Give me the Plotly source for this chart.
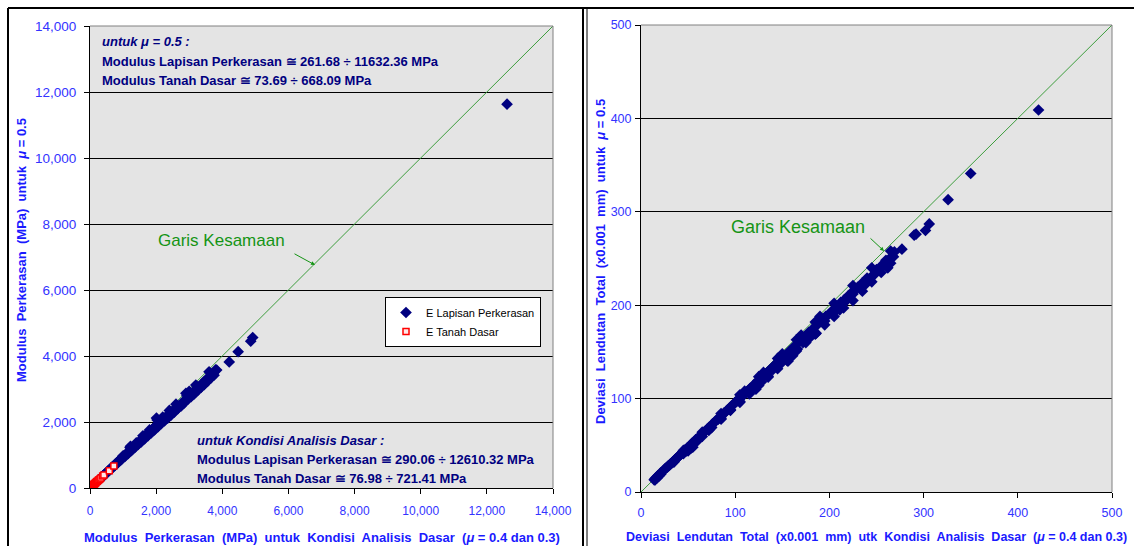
import plotly.graph_objects as go

# ---------------- data: left chart (Modulus) ----------------
lap_x = [290, 310, 335, 360, 385, 410, 440, 465, 490, 500, 520, 545, 575, 600, 630, 660, 690, 700, 720, 750,
         780, 815, 850, 880, 900, 910, 945, 980, 1000, 1010, 1045, 1080, 1100, 1115, 1150, 1185, 1210, 1225,
         1240, 1270, 1300, 1300, 1335, 1370, 1400, 1400, 1440, 1475, 1500, 1510, 1545, 1580, 1620, 1655,
         1690, 1700, 1730, 1765, 1800, 1800, 1840, 1875, 1900, 1910, 1950, 1985, 2010, 2030, 2060, 2100,
         2100, 2140, 2180, 2200, 2220, 2260, 2300, 2300, 2345, 2390, 2430, 2470, 2500, 2510, 2550, 2600,
         2600, 2650, 2700, 2700, 2750, 2800, 2860, 2900, 2900, 2930, 2990, 3000, 3050, 3100, 3110, 3170,
         3230, 3290, 3300, 3350, 3400, 3450, 3500, 3500, 3560, 3620, 3680, 3700, 3740, 3800, 3830, 4210,
         4480, 4860, 4920, 12610.32,
         350, 450, 550, 650, 750, 850, 950, 1050, 1150, 1250, 1350, 1450, 1550, 1650, 1750, 1850, 1950,
         2050, 2150, 2250, 2350, 2450, 2550, 2650, 2750, 2850, 2950, 3050, 3150, 3250, 3350, 3450, 3550,
         3650, 3750, 1600, 2400, 3200, 3600]
lap_y = [262, 290, 318, 330, 362, 385, 415, 432, 462, 455, 488, 515, 540, 560, 598, 622, 650, 640, 672, 712,
         738, 770, 798, 835, 830, 860, 890, 925, 975, 950, 985, 1015, 1010, 1050, 1080, 1120, 1230, 1265,
         1180, 1200, 1225, 1190, 1262, 1290, 1318, 1370, 1355, 1385, 1380, 1420, 1455, 1490, 1525, 1560,
         1590, 1560, 1630, 1660, 1695, 1760, 1735, 1765, 1750, 1800, 1840, 1870, 2120, 2060, 1945, 1985,
         1940, 2010, 2050, 2150, 2085, 2120, 2150, 2110, 2190, 2225, 2265, 2295, 2300, 2335, 2370, 2410,
         2540, 2450, 2495, 2470, 2540, 2590, 2650, 2870, 2660, 2800, 2780, 2930, 2830, 2850, 2900, 2955,
         3010, 3060, 3020, 3110, 3170, 3220, 3270, 3210, 3320, 3380, 3440, 3390, 3500, 3580, 3575, 3820,
         4130, 4450, 4560, 11632.36,
         310, 400, 495, 585, 680, 770, 860, 950, 1040, 1130, 1220, 1310, 1400, 1490, 1580, 1670, 1760,
         1850, 1950, 2030, 2120, 2210, 2300, 2400, 2480, 2580, 2680, 2760, 2850, 2950, 3040, 3130, 3230,
         3330, 3420, 1580, 2350, 3120, 3520]

tan_x = [76.98, 90, 105, 120, 135, 150, 165, 180, 200, 220, 245, 270, 300, 330, 383, 420, 584, 721.41]
tan_y = [73.69, 84, 98, 110, 124, 140, 152, 165, 186, 205, 226, 250, 276, 305, 364, 392, 525, 668.09]

# ---------------- data: right chart (Deviasi Lendutan) ----------------
dev_x = [14, 15, 15, 16, 17, 17, 18, 19, 19, 20, 21, 21, 22,
         27, 28, 29, 30, 31, 32, 33, 34, 35, 36, 37, 38, 39, 40, 41, 42, 43, 44, 45, 46, 47, 48, 49, 50,
         50, 53, 55, 52, 54, 56, 58, 60, 60, 62, 64, 66, 68, 70, 72, 72, 74, 76, 78, 80, 82, 84, 85, 86,
         88, 90, 92, 94, 95, 96, 98, 100, 102, 104, 105, 106, 108, 110, 110, 112, 114, 115, 116, 118, 120,
         122, 122, 124, 126, 128, 128, 130, 130, 133, 135, 136, 139, 140, 142, 145, 148, 148, 150, 151, 154,
         156, 157, 160, 161, 163, 166, 166, 169, 170, 172, 172, 175, 178, 180, 181, 184, 186, 187, 190, 190,
         193, 195, 196, 199, 202, 204, 205, 208, 211, 212, 216, 218, 220, 225, 225, 230, 233, 235, 238, 240,
         246, 247, 250, 253, 255, 260, 262, 265, 268, 269, 277, 290, 292, 302, 306, 326, 350, 422,
         35, 45, 55, 65, 75, 85, 95, 105, 115, 125, 135, 145, 155, 165, 175, 185, 195, 205, 215, 225, 235,
         245, 255, 265, 25, 45, 65, 85, 105, 125, 145, 165, 185, 205, 225, 245, 265]
dev_y = [13, 14.5, 13, 15, 16, 15, 17.5, 18, 17, 19, 20.5, 19, 21,
         26, 26.5, 28, 28.5, 30, 30.5, 31.5, 32.5, 33, 34.5, 35.5, 36, 37.5, 38, 39.5, 40, 41, 42.5, 43, 44.5, 45, 44, 47, 47.5,
         44, 47, 48, 50, 52, 53.5, 56, 57, 55, 59.5, 61, 63.5, 65, 67, 69, 66, 70.5, 73, 74.5, 77, 78, 80.5, 79, 82,
         84.5, 86, 88, 90, 88, 92, 93.5, 96, 97.5, 100, 97, 101, 103.5, 105, 108, 107, 109, 106, 111, 112.5, 115,
         116, 110, 119, 120, 123, 118, 124, 128, 127, 124, 130, 133, 131, 136, 139, 141, 137, 148, 145, 147,
         140, 150, 153, 146, 156, 159, 153, 162, 168, 165, 160, 167, 171, 166, 173, 176, 170, 179, 182, 188,
         185, 183, 188, 190, 193, 191, 196, 199, 195, 203, 206, 205, 210, 215, 212, 219, 218, 224, 222, 229,
         232, 232, 238, 238, 242, 248, 240, 251, 252, 257, 260, 275, 276, 280, 287, 313, 341, 409,
         32, 41, 50.5, 59.5, 69, 78, 87.5, 96, 105, 114, 123, 132, 141, 151, 160, 169, 179, 188, 197, 205, 215,
         225, 235, 245, 24.5, 44.5, 64, 84, 104, 123.5, 143, 163, 182, 202, 221, 240, 258]

x_ticks_left = [0, 2000, 4000, 6000, 8000, 10000, 12000, 14000]
x_ticks_right = [0, 100, 200, 300, 400, 500]
line_left = [0, 14000]
line_right = [0, 500]

W, H = 1134, 546
def px(x): return x / W
def py(y): return 1 - y / H

NAVY = "#000080"
TICK = "#3333FF"
TITLE = "#1a1aff"
GREEN_LINE = "#3d9d3d"
GREEN_TXT = "#159415"
FONT = "Liberation Sans, Arial, sans-serif"

fig = go.Figure()

fig.add_trace(go.Scatter(x=line_left, y=line_left, mode="lines", line=dict(color=GREEN_LINE, width=1),
                         showlegend=False, hoverinfo="skip", xaxis="x", yaxis="y"))
fig.add_trace(go.Scatter(x=lap_x, y=lap_y, mode="markers", name="E Lapisan Perkerasan",
                         marker=dict(symbol="diamond", size=9, color="#000080", line=dict(width=0)),
                         xaxis="x", yaxis="y"))
fig.add_trace(go.Scatter(x=tan_x, y=tan_y, mode="markers", name="E Tanah Dasar",
                         marker=dict(symbol="square", size=6, color="#ffe8e8", line=dict(width=1.5, color="#ff0000")),
                         xaxis="x", yaxis="y"))
fig.add_trace(go.Scatter(x=line_right, y=line_right, mode="lines", line=dict(color=GREEN_LINE, width=1),
                         showlegend=False, hoverinfo="skip", xaxis="x2", yaxis="y2"))
fig.add_trace(go.Scatter(x=dev_x, y=dev_y, mode="markers", showlegend=False,
                         marker=dict(symbol="diamond", size=9, color="#000080", line=dict(width=0)),
                         xaxis="x2", yaxis="y2"))

def ax(size, standoff):
    return dict(showline=True, linecolor="black", linewidth=1, ticks="outside", ticklen=5,
                tickcolor="black", tickfont=dict(family=FONT, size=size, color=TICK), zeroline=False,
                ticklabelstandoff=standoff)

fig.update_layout(
    autosize=True, margin=dict(l=0, r=0, t=0, b=0, autoexpand=False),
    paper_bgcolor="white", plot_bgcolor="#e4e4e4",
    font=dict(family=FONT),
    xaxis=dict(domain=[px(90), px(553)], range=[0, 14000], tickvals=x_ticks_left, tickformat=",d",
               showgrid=False, anchor="y", **ax(12, 7)),
    yaxis=dict(domain=[py(488), py(26)], range=[0, 14000], tickvals=x_ticks_left, tickformat=",d",
               showgrid=True, gridcolor="black", gridwidth=1, anchor="x", **ax(13.5, 5)),
    xaxis2=dict(domain=[px(641), px(1112)], range=[0, 500], tickvals=x_ticks_right,
                showgrid=False, anchor="y2", **ax(12.5, 4)),
    yaxis2=dict(domain=[py(492), py(25)], range=[0, 500], tickvals=x_ticks_right,
                showgrid=True, gridcolor="black", gridwidth=1, anchor="x2", **ax(12.5, 1)),
    legend=dict(x=px(385), y=py(297), xanchor="left", yanchor="top", bgcolor="white",
                bordercolor="black", borderwidth=1, font=dict(family=FONT, size=11, color="black"),
                tracegroupgap=2),
    showlegend=True,
)

shapes = []
for xr_, yr_ in (("x", "y"), ("x2", "y2")):
    shapes.append(dict(type="line", xref=f"{xr_} domain", yref=f"{yr_} domain", x0=0, x1=1, y0=1, y1=1,
                       line=dict(color="#808080", width=1)))
    shapes.append(dict(type="line", xref=f"{xr_} domain", yref=f"{yr_} domain", x0=1, x1=1, y0=0, y1=1,
                       line=dict(color="#808080", width=1)))
shapes.append(dict(type="line", xref="paper", yref="paper", x0=px(8), x1=1, y0=py(8), y1=py(8),
                   line=dict(color="black", width=2)))
shapes.append(dict(type="line", xref="paper", yref="paper", x0=px(8), x1=px(8), y0=0, y1=py(8),
                   line=dict(color="black", width=2)))
shapes.append(dict(type="line", xref="paper", yref="paper", x0=px(583), x1=px(583), y0=0, y1=py(8),
                   line=dict(color="black", width=2)))
shapes.append(dict(type="line", xref="paper", yref="paper", x0=px(587), x1=px(587), y0=0, y1=py(8),
                   line=dict(color="black", width=1)))
fig.update_layout(shapes=shapes)

ann = []
def txt(x, y, s, size=13, color=NAVY, xanchor="left", angle=0):
    ann.append(dict(x=px(x), y=py(y), xref="paper", yref="paper", text=s, showarrow=False,
                    xanchor=xanchor, yanchor="middle", textangle=angle,
                    font=dict(family=FONT, size=size, color=color)))

txt(100, 42, "<b><i>untuk μ = 0.5 :</i></b>")
txt(100, 61, "<b>Modulus Lapisan Perkerasan ≅ 261.68 ÷ 11632.36 MPa</b>")
txt(100, 80, "<b>Modulus Tanah Dasar ≅ 73.69 ÷ 668.09 MPa</b>")
txt(195, 440, "<b><i>untuk Kondisi Analisis Dasar :</i></b>")
txt(195, 459, "<b>Modulus Lapisan Perkerasan ≅ 290.06 ÷ 12610.32 MPa</b>")
txt(195, 478, "<b>Modulus Tanah Dasar ≅ 76.98 ÷ 721.41 MPa</b>")

txt(221, 240, "Garis Kesamaan", size=17, color=GREEN_TXT, xanchor="center")
txt(798, 227, "Garis Kesamaan", size=18, color=GREEN_TXT, xanchor="center")

txt(322, 537, "<b>Modulus  Perkerasan  (MPa)  untuk  Kondisi  Analisis  Dasar  (<i>μ</i> = 0.4 dan 0.3)</b>",
    size=13, color=TITLE, xanchor="center")
txt(22, 250, "<b>Modulus  Perkerasan  (MPa)  untuk  <i>μ</i> = 0.5</b>", size=13, color=TITLE,
    xanchor="center", angle=-90)
txt(876, 537, "<b>Deviasi  Lendutan  Total  (x0.001  mm)  utk  Kondisi  Analisis  Dasar  (<i>μ</i> = 0.4 dan 0.3)</b>",
    size=12.5, color=TITLE, xanchor="center")
txt(600, 262, "<b>Deviasi  Lendutan  Total  (x0.001  mm)  untuk  <i>μ</i> = 0.5</b>", size=13, color=TITLE,
    xanchor="center", angle=-90)

ann.append(dict(x=px(315), y=py(265), xref="paper", yref="paper", text="", showarrow=True,
                ax=-22, ay=-12, arrowhead=2, arrowsize=0.8, arrowwidth=1, arrowcolor=GREEN_TXT))
ann.append(dict(x=px(884), y=py(251), xref="paper", yref="paper", text="", showarrow=True,
                ax=-15, ay=-14, arrowhead=2, arrowsize=0.8, arrowwidth=1, arrowcolor=GREEN_TXT))
fig.update_layout(annotations=ann)

fig.write_html(
    "out.html",
    config={"displayModeBar": False, "responsive": True},
    default_width="100vw", default_height="100vh",
    post_script=("document.body.style.margin='0px';document.body.style.overflow='hidden';"
                 "document.documentElement.style.overflow='hidden';"
                 "window.dispatchEvent(new Event('resize'));"),
)
